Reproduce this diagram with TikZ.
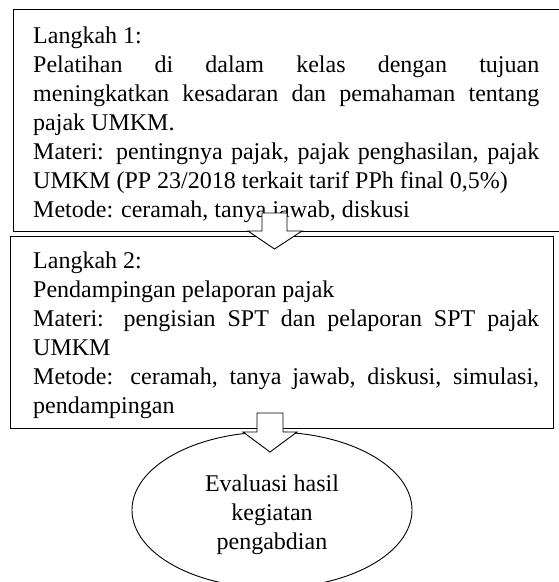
\documentclass[tikz,border=0pt]{standalone}
\usepackage{fontspec}
\setmainfont{Liberation Serif}
\usetikzlibrary{shapes.geometric}
\newcommand\mybodyfont{\fontsize{24}{29}\selectfont\hyphenpenalty=10000\relax\exhyphenpenalty=10000\relax}
\tikzset{
  boxframe/.style={draw, line width=0.9pt, rectangle, anchor=north west, inner sep=0pt},
  boxtext/.style={anchor=north west, inner sep=0pt, text width=506pt, align=justify,
    font=\mybodyfont},
  blockarrow/.style={draw, fill=white, line width=0.9pt, line join=miter},
  evalshape/.style={draw, ellipse, line width=0.9pt, inner sep=0pt},
  evaltext/.style={align=center, inner sep=0pt, anchor=north, font=\mybodyfont}
}
\begin{document}
\begin{tikzpicture}[x=1pt,y=-1pt]
\useasboundingbox (0,0) rectangle (558,582);
\fill[white] (0,0) rectangle (558,582);
% box 1
\node[boxframe, minimum width=552pt, minimum height=222pt] (box1) at (13,9) {};
\node[boxtext] (t1) at (33,26.6) {Langkah 1:\\
Pelatihan di dalam kelas dengan tujuan\linebreak
meningkatkan kesadaran dan pemahaman tentang\linebreak
pajak UMKM.\\
Materi: pentingnya pajak, pajak penghasilan, pajak\linebreak
UMKM (PP 23/2018 terkait tarif PPh final 0,5\%)\\
Metode: ceramah, tanya jawab, diskusi};
% box 2
\node[boxframe, minimum width=543pt, minimum height=192pt] (box2) at (10,236) {};
\node[boxtext] (t2) at (33,251.6) {Langkah 2:\\
Pendampingan pelaporan pajak\\
Materi: pengisian SPT dan pelaporan SPT pajak\linebreak
UMKM\\
Metode: ceramah, tanya jawab, diskusi, simulasi,\linebreak
pendampingan};
% ellipse
\node[evalshape, minimum width=280pt, minimum height=156pt] (ev) at (272,510) {};
\node[evaltext] (evt) at (272,474.6) {Evaluasi hasil\\kegiatan\\pengabdian};
% arrow 1
\draw[blockarrow] (262,213) -- (287,213) -- (287,231) -- (302,231) -- (274.5,249)
  -- (248,231) -- (262,231) -- cycle;
% arrow 2
\draw[blockarrow] (257,413) -- (283,413) -- (283,432) -- (297,432) -- (270,452)
  -- (243,432) -- (257,432) -- cycle;
\end{tikzpicture}
\end{document}
